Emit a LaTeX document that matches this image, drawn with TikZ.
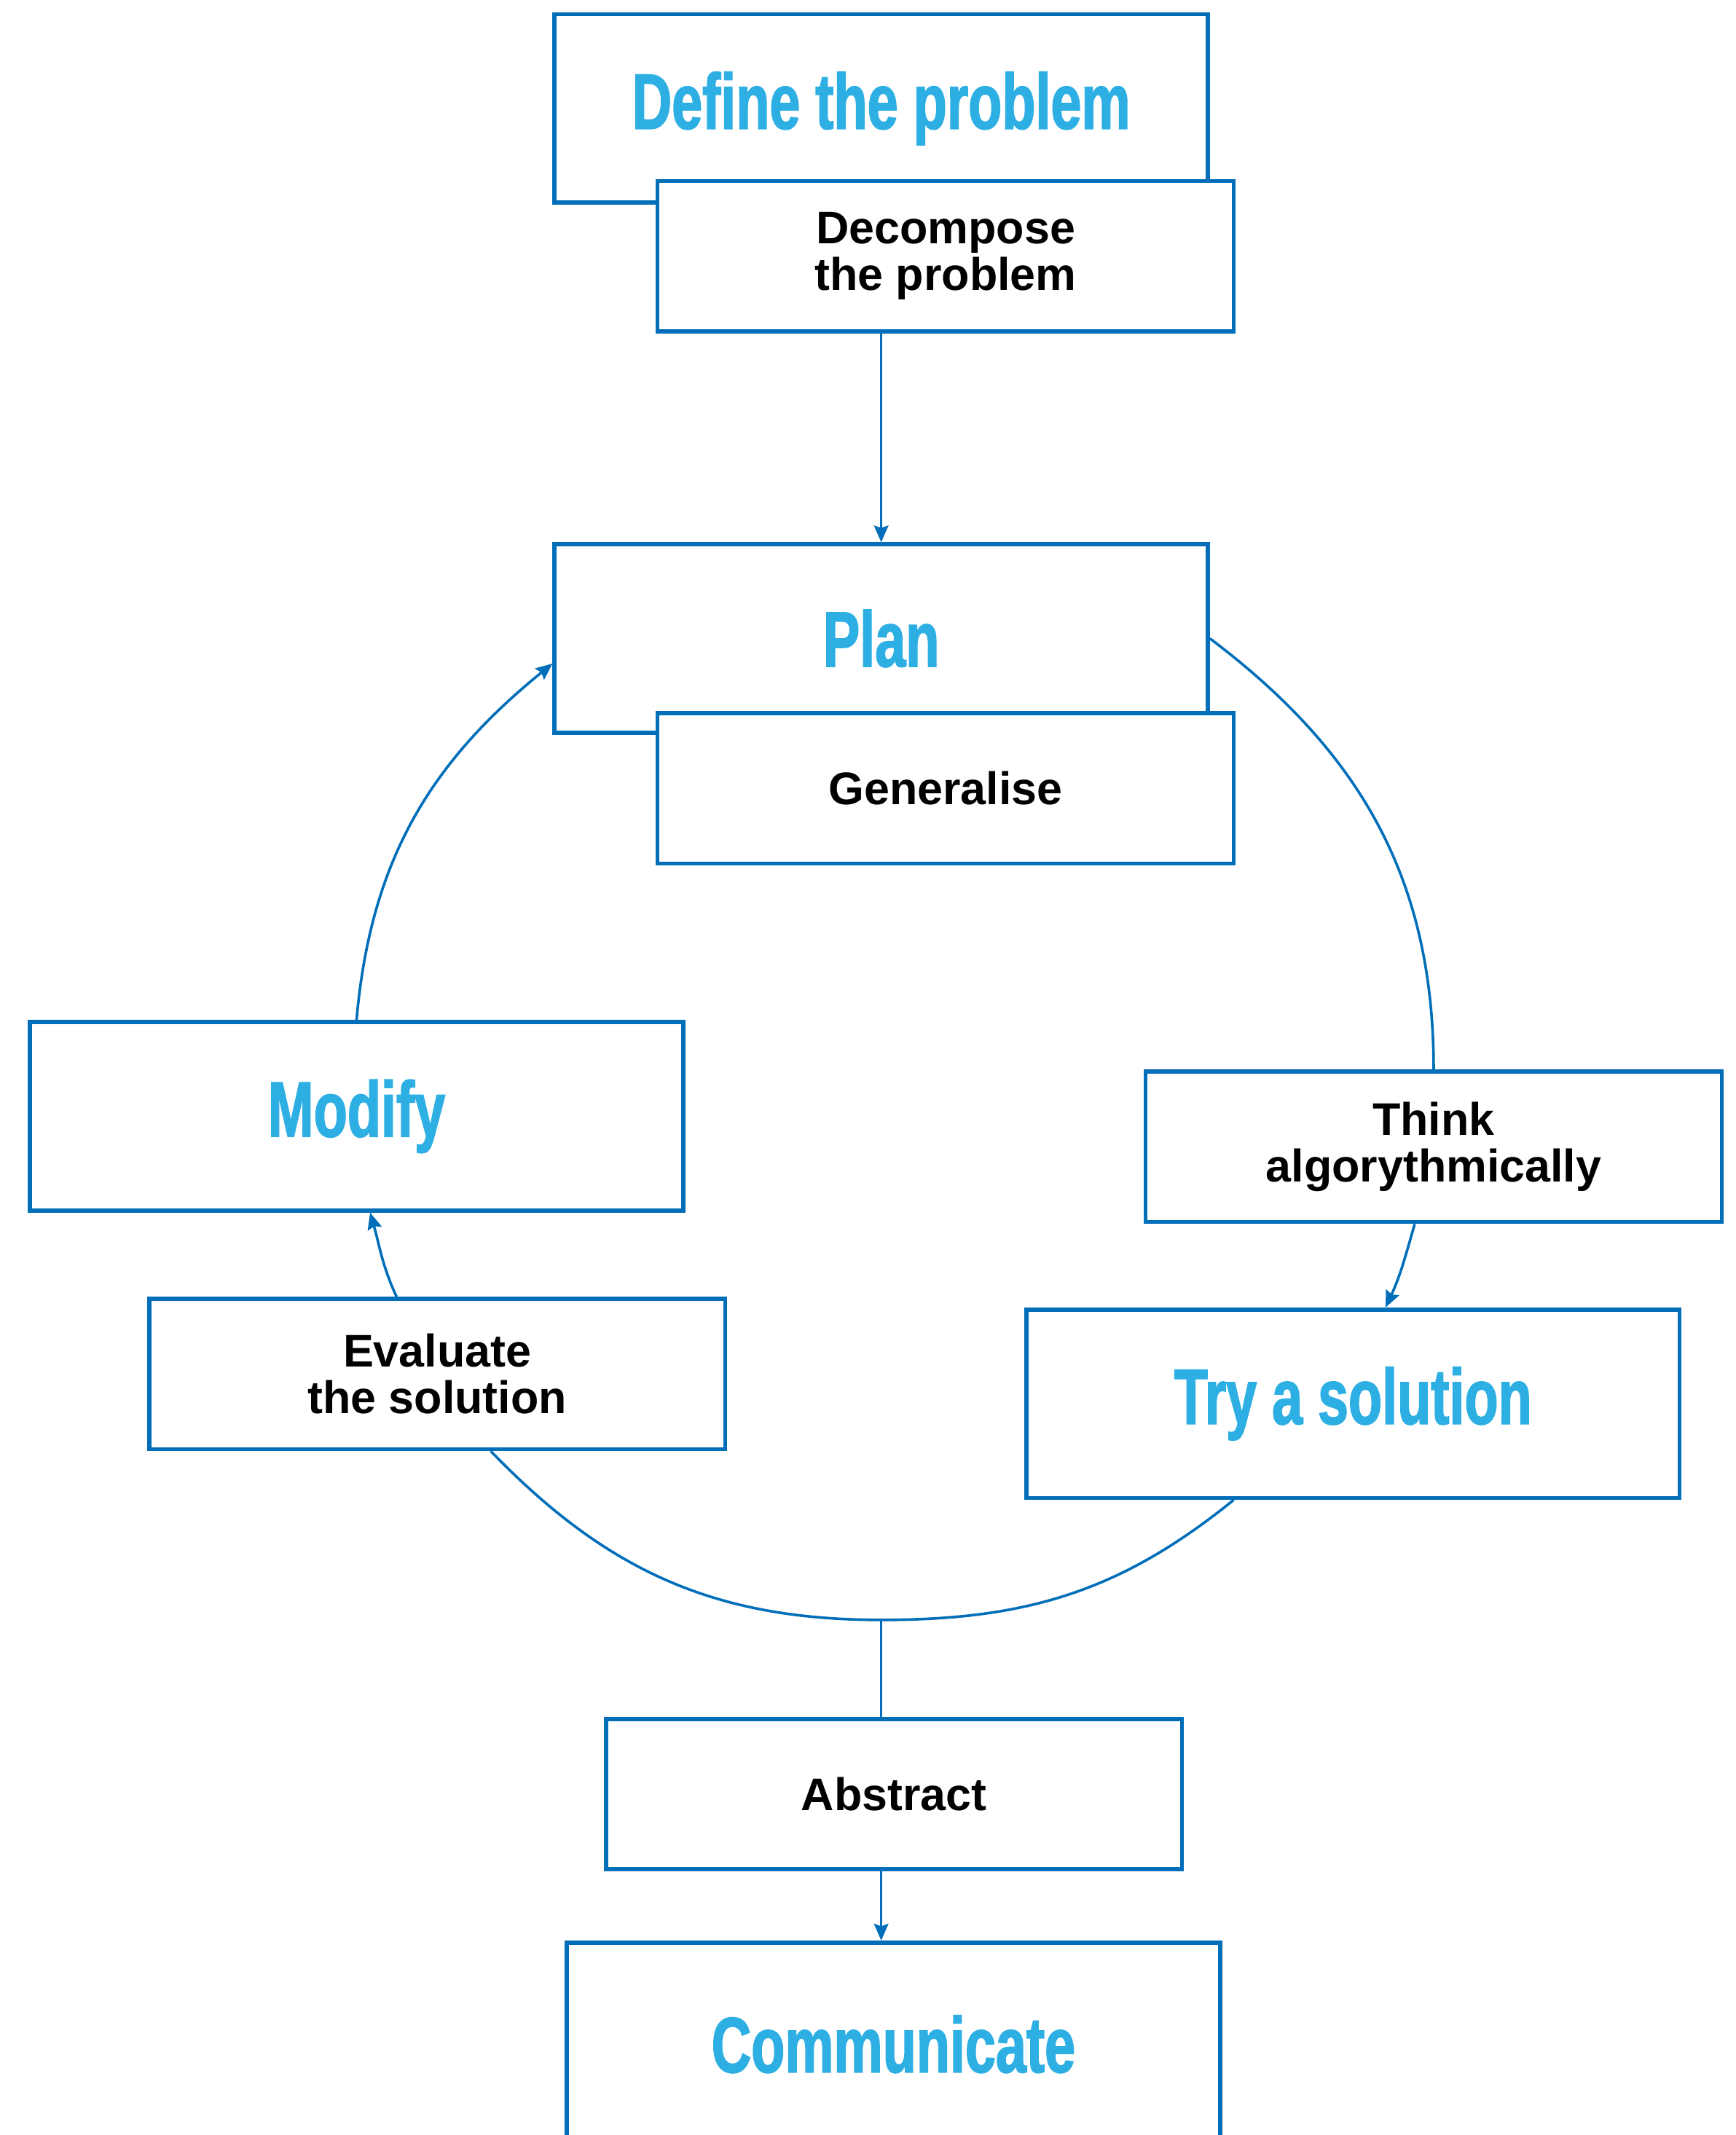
\documentclass[tikz,border=0pt]{standalone}
\usepackage{fontspec}
\setmainfont{Liberation Sans}
\newfontfamily\headfont[FakeStretch=0.7,FakeBold=1.5]{Liberation Sans}
\usetikzlibrary{arrows.meta}
\definecolor{linkblue}{RGB}{0,110,185}
\definecolor{titleblue}{RGB}{45,175,228}
\begin{document}
\begin{tikzpicture}[x=0.02cm,y=-0.02cm,
	big/.style={draw=linkblue,line width=1.7pt,fill=white,minimum width=9.64cm,minimum height=2.78cm,text=titleblue,font=\headfont\bfseries\fontsize{33}{33}\selectfont},
	small/.style={draw=linkblue,line width=1.7pt,fill=white,minimum width=8.5cm,minimum height=2.22cm,align=center,font=\bfseries\fontsize{19.2}{19.6}\selectfont},
	link/.style={draw=linkblue,line width=1.1pt},
	arr/.style={link,-{Stealth[length=7pt,width=6pt,inset=1pt]}}]
	\useasboundingbox (0,0) rectangle (1280,1575);
	\node [big] (define) at (650,80) {Define the problem};
	\node [small] (decomp) at (697.5,189) {Decompose\\the problem};
	\node [big] (plan) at (650,471) {Plan};
	\node [small] (general) at (697.5,581.5) {Generalise};
	\node [big] (modify) at (263,823.5) {Modify};
	\node [small] (think) at (1057.5,846) {Think\\algorythmically};
	\node [small] (evaluate) at (322.5,1013.5) {Evaluate\\the solution};
	\node [big] (try) at (998,1035.5) {Try a solution};
	\node [small] (abstract) at (659.5,1323.5) {Abstract};
	\node [big,minimum height=3cm] (comm) at (659,1508) {Communicate};
	\coordinate (low) at (650,1195);
	\draw [arr] (plan.north |- decomp.south) -- (plan.north);
	\draw [link] (plan.east) to[out=-37,in=90] (think.north);
	\draw [arr] ([xshift=-0.28cm]think.south) to[out=-106,in=65] ([xshift=0.48cm]try.north);
	\draw [link] ([xshift=-1.76cm]try.south) to[out=-141,in=0] (low) to[out=180,in=-46] ([xshift=0.79cm]evaluate.south);
	\draw [link] (low) -- (low |- abstract.north);
	\draw [arr] (low |- abstract.south) -- (low |- comm.north);
	\draw [arr] ([xshift=-0.6cm]evaluate.north) to[out=115,in=-74] ([xshift=0.2cm]modify.south);
	\draw [arr] (modify.north) to[out=85,in=219] ([yshift=-0.37cm]plan.west);
\end{tikzpicture}
\end{document}
